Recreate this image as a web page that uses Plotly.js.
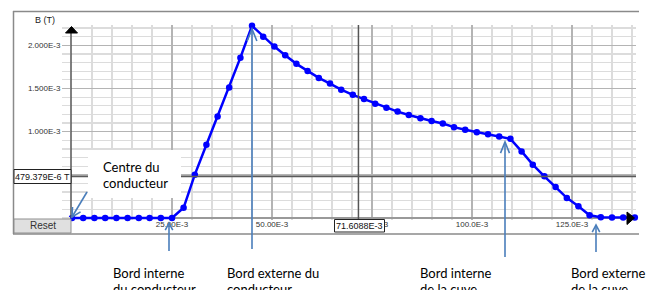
<!DOCTYPE html>
<html><head><meta charset="utf-8">
<script src="https://cdn.plot.ly/plotly-3.0.1.min.js"></script>
<style>html,body{margin:0;padding:0;background:#fff}#chart{width:656px;height:290px}</style>
</head><body><div id="chart"></div>
<script>
// ---- data (radius in m, field in T) ----
const radius = [
  0, 0.0028, 0.0056, 0.0083, 0.0111, 0.0139, 0.0167, 0.0194, 0.0222, 0.0250,
  0.0279, 0.0307, 0.0336, 0.0364, 0.0393, 0.0421, 0.0450,
  0.0478, 0.0506, 0.0533, 0.0561, 0.0589, 0.0617, 0.0645, 0.0673, 0.0702, 0.0730,
  0.0758, 0.0786, 0.0814, 0.0842, 0.0871, 0.0899, 0.0927, 0.0955, 0.0983, 0.1012,
  0.1040, 0.1068, 0.1096,
  0.1124, 0.1152, 0.1181, 0.1209, 0.1237, 0.1266, 0.1294,
  0.1322, 0.1350, 0.1378, 0.1407
];
const fieldB = [
  0, 0, 0, 0, 0, 0, 0, 0, 0, 0,
  0.000118, 0.000502, 0.000849, 0.001176, 0.00151, 0.001857, 0.002226,
  0.00210, 0.001985, 0.001885, 0.001785, 0.001703, 0.001622, 0.001556, 0.001486, 0.001426, 0.001378,
  0.001323, 0.001277, 0.001232, 0.001193, 0.001154, 0.001124, 0.001095, 0.001052, 0.001021, 0.000994,
  0.000969, 0.000944, 0.000917,
  0.000771, 0.000618, 0.000483, 0.00036, 0.000233, 0.000136, 0.000032,
  0.000009, 0.000007, 0.000006, 0.000006
];
const xTickVals = [0.025, 0.05, 0.075, 0.1, 0.125];
const xTickText = ['25.00E-3', '50.00E-3', '75.00E-3', '100.0E-3', '125.0E-3'];
const yTickVals = [0.0005, 0.001, 0.0015, 0.002];
const yTickText = ['', '1.000E-3', '1.500E-3', '2.000E-3'];
const cursorX = 0.0716088;
const cursorY = 0.000479379;
const cursorXLabel = '71.6088E-3';
const cursorYLabel = '479.379E-6 T';
const yAxisLabel = 'B (T)';
const resetLabel = 'Reset';
const noteCentre = ['Centre du', 'conducteur'];
const noteInnerCond = ['Bord interne', 'du conducteur'];
const noteOuterCond = ['Bord externe du', 'conducteur'];
const noteInnerTank = ['Bord interne', 'de la cuve'];
const noteOuterTank = ['Bord externe', 'de la cuve'];

// ---- pixel helpers for decorations ----
const P = {L: 71, R: 636, T: 25, B: 220};
const fx = x => (x - P.L) / (P.R - P.L);
const fy = y => (P.B - y) / (P.B - P.T);
const pxPerT = 86.36e3;             // pixels per tesla
const yMin = -(P.B - 218) / pxPerT;
const yMax = (218 - P.T) / pxPerT;
const xPerPx = 0.001 / 4;           // 4 px per mm
const xMin = (P.L - 72) * xPerPx;
const xMax = (P.R - 72) * xPerPx;

const ARROW = '#4a7ebb';
function seg(x0, y0, x1, y1, color, width) {
  return {type: 'line', xref: 'paper', yref: 'paper', x0: fx(x0), y0: fy(y0), x1: fx(x1), y1: fy(y1),
          line: {color: color, width: width}, layer: 'above'};
}
function pathShape(pts, fill, color, width) {
  const d = pts.map((p, i) => (i ? 'L' : 'M') + fx(p[0]) + ',' + fy(p[1])).join(' ') + (fill ? ' Z' : '');
  return {type: 'path', xref: 'paper', yref: 'paper', path: d, fillcolor: fill || 'rgba(0,0,0,0)',
          line: {color: color, width: width}, layer: 'above'};
}
function arrow(tx, ty, hx, hy, len, ang) {
  const dx = tx - hx, dy = ty - hy, n = Math.hypot(dx, dy);
  const ux = dx / n, uy = dy / n, a = ang * Math.PI / 180;
  const w1 = [hx + len * (ux * Math.cos(a) - uy * Math.sin(a)), hy + len * (ux * Math.sin(a) + uy * Math.cos(a))];
  const w2 = [hx + len * (ux * Math.cos(-a) - uy * Math.sin(-a)), hy + len * (ux * Math.sin(-a) + uy * Math.cos(-a))];
  return [seg(tx, ty, hx, hy, ARROW, 1.6), pathShape([w1, [hx, hy], w2], null, ARROW, 1.6)];
}
function rect(x0, y0, x1, y1, fill, lineColor, lw) {
  return {type: 'rect', xref: 'paper', yref: 'paper', x0: fx(x0), y0: fy(y1), x1: fx(x1), y1: fy(y0),
          fillcolor: fill, line: {color: lineColor, width: lw}, layer: 'above'};
}
function label(text, x, y, size, anchor, family, color) {
  return {text: text, xref: 'paper', yref: 'paper', x: fx(x), y: fy(y), showarrow: false,
          xanchor: anchor, yanchor: 'middle', font: {size: size, family: family, color: color || '#000'}};
}
const SANS = 'Liberation Sans, Arial, sans-serif';
const NOTE = 'Lato, Carlito, Calibri, sans-serif';

const trace = {
  x: radius, y: fieldB, type: 'scatter', mode: 'lines+markers', cliponaxis: false,
  line: {color: '#0000ff', width: 2.5}, marker: {color: '#0000ff', size: 6.5},
  hoverinfo: 'skip'
};

const shapes = [
  // frame
  seg(13, 11.5, 639, 11.5, '#8a8a8a', 1.5),
  seg(13.5, 11, 13.5, 234, '#8a8a8a', 1.5),
  seg(13, 234, 639, 234, '#8a8a8a', 1.5),
  // y axis and arrows
  seg(71, 31, 71, 218, '#555', 1.5),
  pathShape([[65.5, 33], [71.5, 26.5], [77.5, 33]], '#000', '#000', 1),
  pathShape([[627, 212], [634.5, 218], [627, 224.5]], '#000', '#000', 1),
  // cursor lines
  {type: 'line', xref: 'x', yref: 'paper', x0: cursorX, x1: cursorX, y0: 0, y1: 1, line: {color: '#555', width: 1.5}, layer: 'above'},
  {type: 'line', xref: 'paper', yref: 'y', x0: 0, x1: 1, y0: cursorY, y1: cursorY, line: {color: '#5a5a5a', width: 1.5}, layer: 'above'},
  // boxes
  rect(14, 219, 71, 233, '#e0e0e0', '#8f8f8f', 1),
  rect(14, 169.5, 71, 183.5, '#ffffff', '#222', 1),
  rect(334.5, 219.5, 384.5, 232, '#ffffff', '#222', 1),
  rect(88, 150, 181, 198, '#ffffff', 'rgba(0,0,0,0)', 0),
  // note arrows
  ...arrow(87, 192, 72, 217, 10, 28),
  ...arrow(169, 251, 169, 223, 8, 28),
  ...arrow(252, 249, 252, 29, 13, 22),
  ...arrow(505, 257, 505, 142, 12, 22),
  ...arrow(596, 252, 596, 225, 8, 28)
];

const annotations = [
  label(yAxisLabel, 33, 20, 9, 'left', SANS, '#222'),
  label(resetLabel, 42.5, 226, 10, 'center', SANS, '#333'),
  label(cursorYLabel, 42.5, 176.5, 9, 'center', SANS, '#111'),
  label(cursorXLabel, 359.5, 226, 9, 'center', SANS, '#111'),
  label(noteCentre[0], 101, 167, 13, 'left', NOTE),
  label(noteCentre[1], 101, 183, 13, 'left', NOTE),
  label(noteInnerCond[0], 110.5, 273, 13, 'left', NOTE),
  label(noteInnerCond[1], 110.5, 289, 13, 'left', NOTE),
  label(noteOuterCond[0], 225, 273, 13, 'left', NOTE),
  label(noteOuterCond[1], 225, 289, 13, 'left', NOTE),
  label(noteInnerTank[0], 417.5, 273, 13, 'left', NOTE),
  label(noteInnerTank[1], 417.5, 289, 13, 'left', NOTE),
  label(noteOuterTank[0], 568.5, 273, 13, 'left', NOTE),
  label(noteOuterTank[1], 568.5, 289, 13, 'left', NOTE)
];

const layout = {
  width: 656, height: 290,
  margin: {l: P.L, r: 656 - P.R, t: P.T, b: 290 - P.B, pad: 0},
  paper_bgcolor: '#ffffff', plot_bgcolor: '#ffffff',
  showlegend: false,
  xaxis: {
    range: [xMin, xMax], tickmode: 'array', tickvals: xTickVals, ticktext: xTickText,
    showgrid: true, gridcolor: '#b4b4b4', gridwidth: 1.5, zeroline: false, showline: false,
    ticks: '', ticklabelstandoff: -2,
    tickfont: {family: SANS, size: 8, color: '#333'},
    minor: {tickmode: 'linear', tick0: 0, dtick: 0.005, showgrid: true, gridcolor: '#dcdcdc', gridwidth: 1.2, ticks: ''},
    fixedrange: true
  },
  yaxis: {
    range: [yMin, yMax], tickmode: 'array', tickvals: yTickVals, ticktext: yTickText,
    showgrid: true, gridcolor: '#b4b4b4', gridwidth: 1.5, showline: false,
    zeroline: true, zerolinecolor: '#999', zerolinewidth: 1.5,
    ticks: 'outside', ticklen: 8, tickcolor: '#b4b4b4', tickwidth: 1.5,
    tickfont: {family: SANS, size: 8, color: '#333'},
    minor: {tickmode: 'linear', tick0: 0, dtick: 0.0001, showgrid: true, gridcolor: '#dcdcdc', gridwidth: 1.2,
            ticks: 'outside', ticklen: 8, tickcolor: '#dcdcdc', tickwidth: 1.2},
    fixedrange: true
  },
  shapes: shapes,
  annotations: annotations
};

Plotly.newPlot('chart', [trace], layout, {displayModeBar: false, staticPlot: true});
</script>
</body></html>
